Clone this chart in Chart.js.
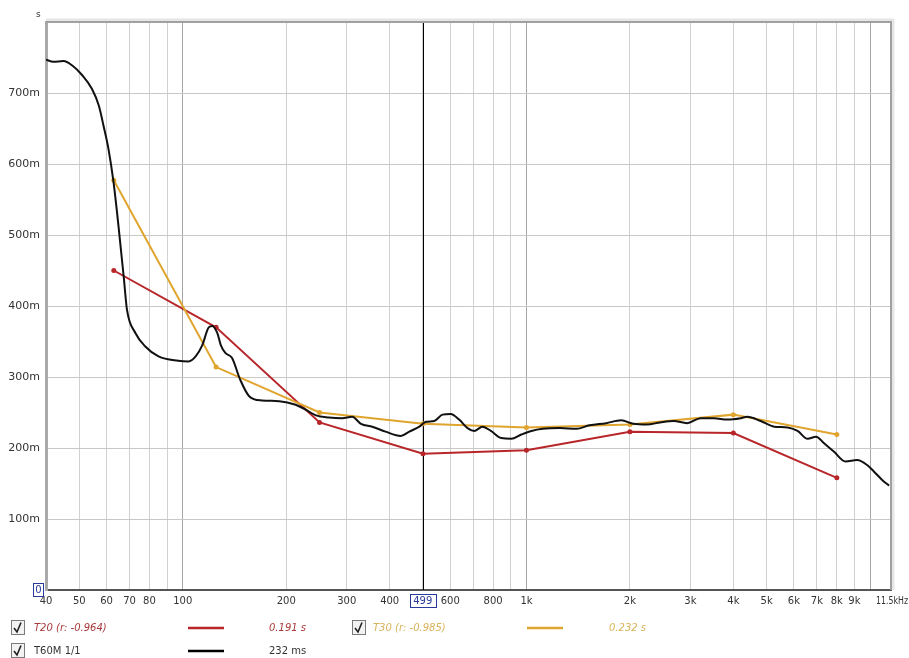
<!DOCTYPE html>
<html>
<head>
<meta charset="utf-8">
<title>T60 reverberation time</title>
<script src="https://cdn.jsdelivr.net/npm/chart.js@4.4.1/dist/chart.umd.min.js"></script>
<style>
  html, body { margin: 0; padding: 0; background: #fff; }
  #wrap { width: 909px; height: 658px; }
</style>
</head>
<body>
<div id="wrap"><canvas id="rtChart" width="909" height="658"></canvas></div>
<script>
// octave band results
const bandFreqs = [63, 125, 250, 500, 1000, 2000, 4000, 8000];
const t20Values = [450, 370, 236, 192, 197, 223, 221, 158];
const t30Values = [577, 314, 250, 234, 229, 233, 247, 219];

// T60M 1/1 curve (Hz, ms)
const t60Freqs = [40, 42, 45, 47.6, 51, 54.4, 57, 58.8, 60.8, 62.9, 65, 67.3, 68.8, 72.8, 77.8, 85, 97,
  104, 109, 114, 119, 122, 126, 129, 133, 139, 147, 156, 170, 191, 213, 228, 244, 266, 291, 311, 330,
  356, 389, 431, 456, 488, 510, 539, 570, 602, 637, 674, 704, 745, 788, 844, 903, 966, 1034, 1115,
  1251, 1398, 1527, 1706, 1886, 2046, 2240, 2450, 2680, 2932, 3210, 3512, 3843, 4205, 4390, 4805,
  5260, 5750, 6150, 6580, 6960, 7330, 7840, 8480, 9160, 9800, 10250, 10840, 11350];
const t60Values = [747, 744, 745, 739, 725, 706, 682, 654, 621, 574, 513, 442, 395, 362, 343, 329, 323,
  322, 329, 345, 370, 372, 362, 345, 334, 327, 296, 273, 267, 266, 261, 254, 246, 243, 242, 244, 234,
  230, 223, 217, 223, 230, 237, 238, 247, 248, 240, 228, 224, 230, 224, 214, 213, 219, 224, 227,
  228, 227, 232, 235, 239, 234, 233, 236, 238, 235, 242, 242, 240, 242, 244, 238,
  230, 229, 224, 213, 216, 207, 195, 181, 183, 176, 167, 155, 147];

// axis ticks
const xTickFreqs = [40, 50, 60, 70, 80, 90, 100, 200, 300, 400, 500, 600, 700, 800, 900,
  1000, 2000, 3000, 4000, 5000, 6000, 7000, 8000, 9000, 10000, 11500];
const xTickLabels = ['40', '50', '60', '70', '80', '', '100', '200', '300', '400', '', '600', '', '800', '',
  '1k', '2k', '3k', '4k', '5k', '6k', '7k', '8k', '9k', '', ''];
const yTickValues = [0, 100, 200, 300, 400, 500, 600, 700, 800];
const yTickLabels = ['', '100m', '200m', '300m', '400m', '500m', '600m', '700m', ''];
const cursorFreq = 499;

const FONT = 'DejaVu Sans';

function toPoints(xs, ys) {
    return xs.map((x, i) => ({ x: x, y: ys[i] }));
}

function drawCheckbox(ctx, x, y) {
    ctx.save();
    ctx.fillStyle = '#f2f2f2';
    ctx.fillRect(x, y, 14, 15);
    ctx.strokeStyle = '#7a7a7a';
    ctx.lineWidth = 1;
    ctx.strokeRect(x + 0.5, y + 0.5, 13, 14);
    ctx.strokeStyle = '#222';
    ctx.lineWidth = 1.6;
    ctx.beginPath();
    ctx.moveTo(x + 3, y + 8);
    ctx.lineTo(x + 6, y + 12);
    ctx.lineTo(x + 10, y + 2.5);
    ctx.stroke();
    ctx.restore();
}

const extrasPlugin = {
    id: 'extras',
    beforeDatasetsDraw(chart) {
        const { ctx, chartArea, scales } = chart;
        const cx = Math.round(scales.x.getPixelForValue(cursorFreq)) + 0.5;
        ctx.save();
        ctx.strokeStyle = '#000';
        ctx.lineWidth = 1;
        ctx.beginPath();
        ctx.moveTo(cx, chartArea.top);
        ctx.lineTo(cx, chartArea.bottom);
        ctx.stroke();
        ctx.restore();
    },
    afterDraw(chart) {
        const { ctx, chartArea, scales } = chart;
        ctx.save();
        // top / right frame with a light shadow
        ctx.strokeStyle = '#e6e6e6';
        ctx.lineWidth = 3;
        ctx.beginPath();
        ctx.moveTo(chartArea.left, chartArea.top - 2);
        ctx.lineTo(chartArea.right + 2, chartArea.top - 2);
        ctx.lineTo(chartArea.right + 2, chartArea.bottom);
        ctx.stroke();
        ctx.strokeStyle = '#a0a0a0';
        ctx.lineWidth = 2;
        ctx.beginPath();
        ctx.moveTo(chartArea.left, chartArea.top);
        ctx.lineTo(chartArea.right, chartArea.top);
        ctx.lineTo(chartArea.right, chartArea.bottom);
        ctx.stroke();

        // unit
        ctx.fillStyle = '#333';
        ctx.font = '9px ' + FONT;
        ctx.textAlign = 'left';
        ctx.textBaseline = 'middle';
        ctx.fillText('s', 36, 15);

        // boxed zero
        ctx.strokeStyle = '#2a3a9a';
        ctx.lineWidth = 1;
        ctx.strokeRect(33.5, 583.5, 10, 13);
        ctx.fillStyle = '#2a3a9a';
        ctx.font = '10px ' + FONT;
        ctx.textAlign = 'center';
        ctx.fillText('0', 38.5, 590.5);

        // boxed cursor frequency
        const cx = scales.x.getPixelForValue(cursorFreq);
        ctx.fillStyle = '#fff';
        ctx.fillRect(cx - 13, 594, 26, 14);
        ctx.strokeRect(Math.round(cx - 13) + 0.5, 594.5, 26, 13);
        ctx.fillStyle = '#2a3a9a';
        ctx.fillText(String(cursorFreq), cx, 601.5);

        // last x label, squeezed against the edge
        ctx.fillStyle = '#333';
        ctx.textAlign = 'right';
        ctx.fillText('11.5kHz', 908, 601, 32);

        // legend
        const rowA = 628, rowB = 651;
        drawCheckbox(ctx, 11, rowA - 8);
        drawCheckbox(ctx, 11, rowB - 8);
        drawCheckbox(ctx, 352, rowA - 8);

        ctx.textAlign = 'left';
        ctx.font = 'italic 10px ' + FONT;
        ctx.fillStyle = '#a83a3a';
        ctx.fillText('T20 (r: -0.964)', 34, rowA);
        ctx.fillText('0.191 s', 269, rowA);
        ctx.fillStyle = '#d9b35a';
        ctx.fillText('T30 (r: -0.985)', 373, rowA);
        ctx.fillText('0.232 s', 609, rowA);

        ctx.font = '10px ' + FONT;
        ctx.fillStyle = '#333';
        ctx.fillText('T60M 1/1', 34, rowB);
        ctx.fillText('232 ms', 269, rowB);

        const samples = [
            [188, rowA, '#b8262a'],
            [188, rowB, '#000000'],
            [527, rowA, '#e0a52e']
        ];
        ctx.lineWidth = 2.5;
        samples.forEach(s => {
            ctx.strokeStyle = s[2];
            ctx.beginPath();
            ctx.moveTo(s[0], s[1]);
            ctx.lineTo(s[0] + 36, s[1]);
            ctx.stroke();
        });
        ctx.restore();
    }
};

const rtCtx = document.getElementById('rtChart').getContext('2d');
new Chart(rtCtx, {
    type: 'line',
    data: {
        datasets: [
            {
                label: 'T60M 1/1',
                data: toPoints(t60Freqs, t60Values),
                borderColor: '#111',
                borderWidth: 2,
                pointRadius: 0,
                cubicInterpolationMode: 'monotone',
                fill: false
            },
            {
                label: 'T30',
                data: toPoints(bandFreqs, t30Values),
                borderColor: '#e0a52e',
                backgroundColor: '#e0a52e',
                borderWidth: 2,
                pointRadius: 2.5,
                pointBorderWidth: 0,
                tension: 0,
                fill: false
            },
            {
                label: 'T20',
                data: toPoints(bandFreqs, t20Values),
                borderColor: '#b8262a',
                backgroundColor: '#b8262a',
                borderWidth: 2,
                pointRadius: 2.5,
                pointBorderWidth: 0,
                tension: 0,
                fill: false
            }
        ]
    },
    options: {
        responsive: false,
        animation: false,
        devicePixelRatio: 1,
        layout: { padding: { left: 8, right: 18, top: 22, bottom: 48 } },
        scales: {
            x: {
                type: 'logarithmic',
                min: 40,
                max: 11500,
                afterBuildTicks(axis) {
                    axis.ticks = xTickFreqs.map(v => ({ value: v }));
                },
                afterFit(axis) { axis.height = 20; },
                ticks: {
                    autoSkip: false,
                    maxRotation: 0,
                    padding: 5,
                    color: '#333',
                    font: { family: FONT, size: 10 },
                    callback(value) {
                        const i = xTickFreqs.indexOf(value);
                        return i >= 0 ? xTickLabels[i] : '';
                    }
                },
                grid: {
                    drawTicks: false,
                    color(c) {
                        const v = c.tick ? c.tick.value : 0;
                        return (v === 100 || v === 1000 || v === 10000) ? '#a6a6a6' : '#d0d0d0';
                    }
                },
                border: { color: '#555', width: 2 }
            },
            y: {
                min: 0,
                max: 800,
                afterBuildTicks(axis) {
                    axis.ticks = yTickValues.map(v => ({ value: v }));
                },
                afterFit(axis) { axis.width = 38; },
                ticks: {
                    padding: 6,
                    color: '#333',
                    font: { family: FONT, size: 11 },
                    callback(value) {
                        const i = yTickValues.indexOf(value);
                        return i >= 0 ? yTickLabels[i] : '';
                    }
                },
                grid: { drawTicks: false, color: '#c8c8c8' },
                border: { color: '#aaa', width: 3 }
            }
        },
        plugins: {
            legend: { display: false },
            tooltip: { enabled: false }
        }
    },
    plugins: [extrasPlugin]
});
</script>
</body>
</html>
